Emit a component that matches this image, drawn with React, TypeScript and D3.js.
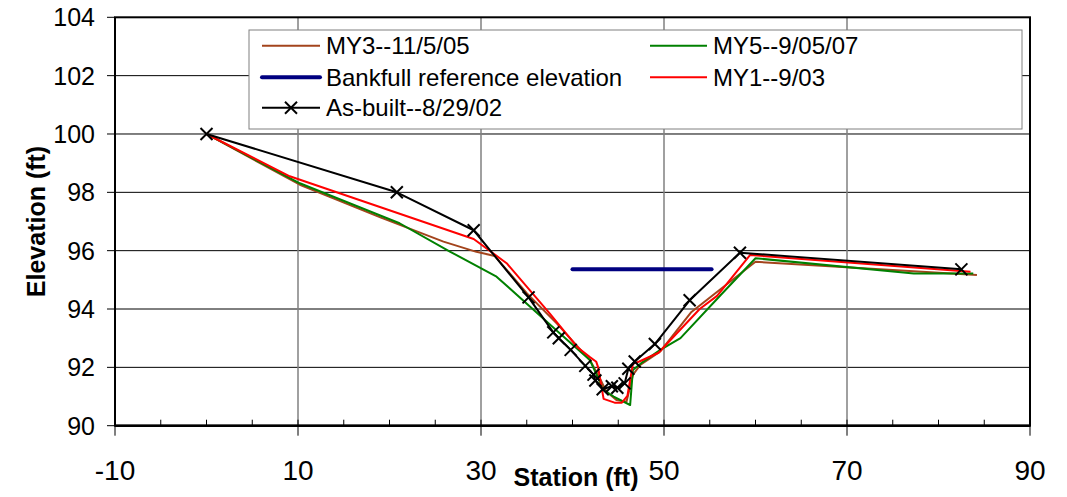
import React from "react";
import * as d3 from "d3";

// ---- Data ----
const xTickLabels = [-10, 10, 30, 50, 70, 90];
const yTickLabels = [90, 92, 94, 96, 98, 100, 102, 104];

const my3Station = [0, 10.2, 13.8, 19.0, 25.9, 29.5, 31.5, 35.0, 38.3, 41.9, 43.0, 43.7, 44.8, 45.9, 46.6, 47.4, 49.6, 53.0, 60.0, 84.2];
const my3Elev = [100, 98.26, 97.8, 97.14, 96.31, 95.96, 95.82, 94.54, 93.5, 92.25, 91.62, 91.17, 90.88, 90.82, 91.74, 92.08, 92.55, 93.9, 95.62, 95.17];

const my5Station = [0, 10.2, 21.1, 26.6, 31.7, 38.6, 41.9, 43.4, 44.5, 46.3, 46.6, 47.7, 49.6, 51.8, 56.2, 60.0, 77.3, 83.8];
const my5Elev = [100, 98.31, 96.94, 95.97, 95.11, 93.17, 92.25, 91.22, 91.0, 90.71, 91.91, 92.19, 92.6, 93.0, 94.48, 95.74, 95.22, 95.22];

const bankfullStation = [40, 55.2];
const bankfullElev = [95.36, 95.36];

const my1Station = [0, 9.1, 29.2, 32.8, 37.5, 40.5, 41.9, 42.6, 42.8, 43.4, 44.6, 45.4, 46.0, 46.6, 47.3, 49.4, 53.9, 55.8, 59.4, 83.5];
const my1Elev = [100, 98.55, 96.4, 95.57, 93.85, 92.7, 92.35, 92.19, 92.0, 90.92, 90.79, 90.79, 91.02, 92.12, 92.2, 92.5, 94.0, 94.45, 95.85, 95.28];

const asBuiltStation = [0, 20.8, 29.2, 35.2, 37.9, 38.5, 39.8, 41.4, 42.3, 42.5, 43.3, 44.3, 44.9, 45.7, 46.1, 46.8, 49.0, 52.8, 58.3, 82.5];
const asBuiltElev = [100, 98.0, 96.7, 94.4, 93.2, 93.0, 92.6, 92.05, 91.75, 91.55, 91.25, 91.35, 91.3, 91.45, 91.95, 92.2, 92.8, 94.3, 95.93, 95.36];

const seriesNames = ["MY3--11/5/05", "MY5--9/05/07", "Bankfull reference elevation", "MY1--9/03", "As-built--8/29/02"];

// ---- Layout ----
const W = 1067;
const H = 497;
const left = 115;
const right = 1030;
const top = 17.3;
const bottom = 425.7;

const FONT = "'Liberation Sans', Arial, Helvetica, sans-serif";

export default function App() {
  const x = d3.scaleLinear().domain([-10, 90]).range([left, right]);
  const y = d3.scaleLinear().domain([90, 104]).range([bottom, top]);

  const mk = (xs: number[], ys: number[]) => xs.map((s, i) => [s, ys[i]] as [number, number]);
  const line = d3
    .line<[number, number]>()
    .x((d) => x(d[0]))
    .y((d) => y(d[1]));

  const series = [
    { name: seriesNames[0], data: mk(my3Station, my3Elev), color: "#A3441C", width: 2, marker: false },
    { name: seriesNames[1], data: mk(my5Station, my5Elev), color: "#008000", width: 2, marker: false },
    { name: seriesNames[2], data: mk(bankfullStation, bankfullElev), color: "#000080", width: 4, marker: false },
    { name: seriesNames[3], data: mk(my1Station, my1Elev), color: "#FF0000", width: 2, marker: false },
    { name: seriesNames[4], data: mk(asBuiltStation, asBuiltElev), color: "#000000", width: 2, marker: true },
  ];

  const minorTicks = d3.range(-10, 90.01, 5);
  const gridX = [10, 30, 50, 70];
  const gridY = yTickLabels.filter((v) => v > 90 && v < 104);

  const xMark = (cx: number, cy: number, r: number, key: string | number) => (
    <g key={key}>
      <line x1={cx - r} y1={cy - r} x2={cx + r} y2={cy + r} stroke="#000" strokeWidth={2} />
      <line x1={cx - r} y1={cy + r} x2={cx + r} y2={cy - r} stroke="#000" strokeWidth={2} />
    </g>
  );

  // legend layout
  const legL = 249, legT = 30, legR = 1022, legB = 129;
  const rowY = [45.7, 77.3, 107.7];
  const legendItems = [
    { s: series[0], col: 0, row: 0 },
    { s: series[1], col: 1, row: 0 },
    { s: series[2], col: 0, row: 1 },
    { s: series[3], col: 1, row: 1 },
    { s: series[4], col: 0, row: 2 },
  ];
  const colLine = [[262, 320], [650, 707]];
  const colText = [326, 713];

  return (
    <svg width={W} height={H} style={{ display: "block", position: "absolute", left: 0, top: 0 }} fontFamily={FONT}>
      <rect x={0} y={0} width={W} height={H} fill="#fff" />
      {/* gridlines */}
      {gridY.map((v) => (
        <line key={"gy" + v} x1={left} x2={right} y1={y(v)} y2={y(v)} stroke="#000" strokeWidth={1} />
      ))}
      {gridX.map((v) => (
        <line key={"gx" + v} x1={x(v)} x2={x(v)} y1={top} y2={bottom} stroke="#808080" strokeWidth={1.5} />
      ))}

      {/* legend box */}
      <rect x={legL} y={legT} width={legR - legL} height={legB - legT} fill="#fff" stroke="#808080" strokeWidth={1} />
      {legendItems.map((it, i) => {
        const yy = rowY[it.row];
        const [a, b] = colLine[it.col];
        return (
          <g key={"leg" + i}>
            <line x1={a} x2={b} y1={yy} y2={yy} stroke={it.s.color} strokeWidth={it.s.width} strokeLinecap={it.s.width > 3 ? "round" : "butt"} />
            {it.s.marker && xMark((a + b) / 2, yy, 6, "lm" + i)}
            <text x={colText[it.col]} y={yy} dy="0.35em" fontSize={24} fill="#000">
              {it.s.name}
            </text>
          </g>
        );
      })}

      {/* series */}
      {series.map((s) => (
        <path
          key={s.name}
          d={line(s.data) || ""}
          fill="none"
          stroke={s.color}
          strokeWidth={s.width}
          strokeLinejoin="round"
          strokeLinecap={s.width > 3 ? "round" : "butt"}
        />
      ))}
      {series[4].data.map((d, i) => xMark(x(d[0]), y(d[1]), 6, "m" + i))}

      {/* frame */}
      <rect x={left} y={top} width={right - left} height={bottom - top} fill="none" stroke="#000" strokeWidth={2} />
      <line x1={left} x2={right} y1={bottom} y2={bottom} stroke="#000" strokeWidth={2.5} />

      {/* y ticks */}
      {yTickLabels.map((v) => (
        <g key={"yt" + v}>
          <line x1={left - 8} x2={left} y1={y(v)} y2={y(v)} stroke="#000" strokeWidth={1} />
          <text x={95} y={y(v)} dy="0.36em" textAnchor="end" fontSize={25} fill="#000">
            {v}
          </text>
        </g>
      ))}

      {/* x ticks */}
      {minorTicks.map((v) => (
        <line key={"xm" + v} x1={x(v)} x2={x(v)} y1={bottom - 6} y2={bottom} stroke="#000" strokeWidth={1} />
      ))}
      {xTickLabels.map((v) => (
        <g key={"xt" + v}>
          <line x1={x(v)} x2={x(v)} y1={bottom} y2={bottom + 10} stroke="#000" strokeWidth={1} />
          <text x={x(v)} y={480} textAnchor="middle" fontSize={28} fill="#000">
            {v}
          </text>
        </g>
      ))}

      {/* axis titles */}
      <text x={576} y={486} textAnchor="middle" fontSize={25} fontWeight="bold" fill="#000">
        Station (ft)
      </text>
      <text transform="translate(45,221.5) rotate(-90)" textAnchor="middle" fontSize={25} fontWeight="bold" fill="#000">
        Elevation (ft)
      </text>
    </svg>
  );
}
